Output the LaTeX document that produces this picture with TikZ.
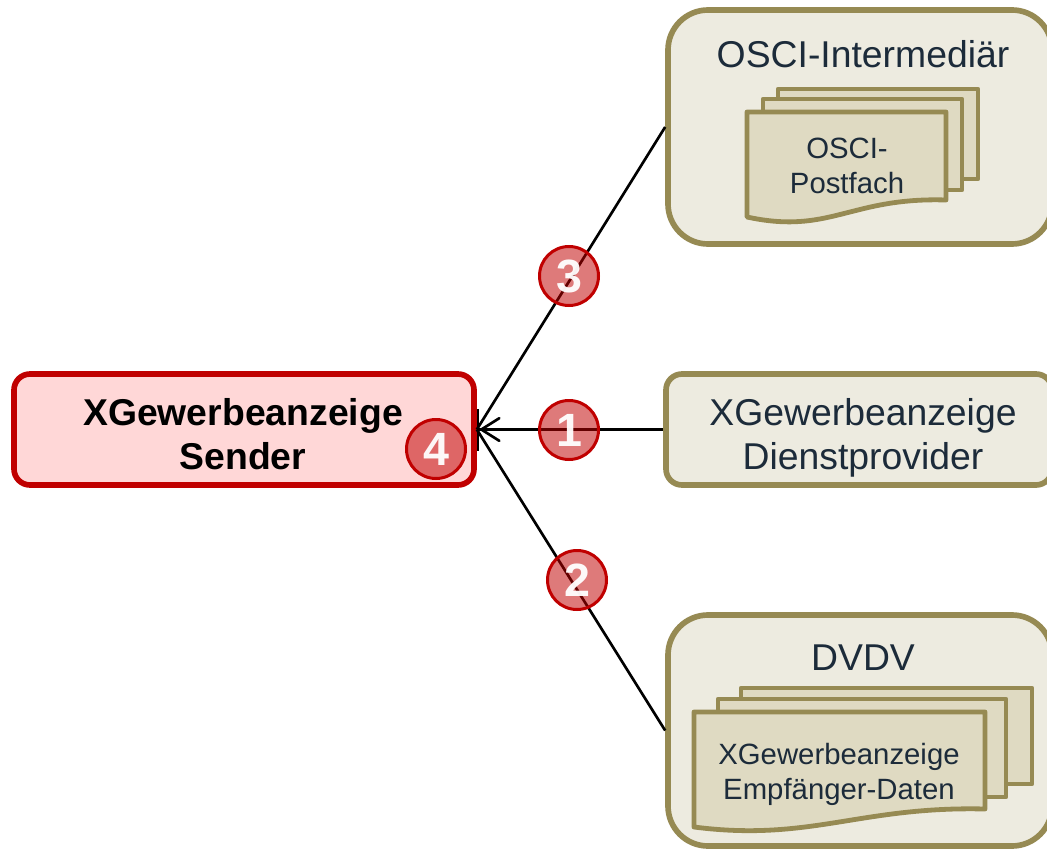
\documentclass[tikz,border=0pt]{standalone}
\usepackage{fontspec}
\setmainfont{Liberation Sans}
\usetikzlibrary{arrows.meta}
\definecolor{olive}{HTML}{968A53}
\definecolor{paleolive}{HTML}{EDEBE0}
\definecolor{docfill}{HTML}{DFDAC2}
\definecolor{inkblue}{HTML}{1C2B3A}
\definecolor{sred}{HTML}{C00000}
\definecolor{spink}{HTML}{FFD7D7}
\tikzset{
  x=0.75pt,y=-0.75pt,
  bigbox/.style={draw=olive,fill=paleolive,line width=4.25pt,rounded corners=30pt,minimum width=288pt,inner sep=0pt},
  smallbox/.style={draw=olive,fill=paleolive,line width=4.25pt,rounded corners=12pt,minimum width=289.5pt,minimum height=83.25pt,inner sep=0pt},
  senderbox/.style={draw=sred,fill=spink,line width=4.25pt,rounded corners=12pt,minimum width=345pt,minimum height=83.25pt,inner sep=0pt},
  biglabel/.style={text=inkblue,align=center,inner sep=0pt,font=\fontsize{28}{33}\selectfont},
  doclabel/.style={text=inkblue,align=center,inner sep=0pt,font=\fontsize{22}{26.3}\selectfont},
  sheet/.style={draw=olive,fill=docfill,line width=3.6pt,line join=round},
  link/.style={draw=black,line width=2pt},
  badge/.style={circle,draw=sred,line width=2.25pt,fill=sred,fill opacity=0.52,draw opacity=1,text opacity=0.95,text=white,minimum size=44.25pt,inner sep=0pt,font=\fontsize{35}{35}\selectfont\bfseries}
}
\begin{document}
\begin{tikzpicture}
\clip (0,0) rectangle (1047,849);
\fill[white] (0,0) rectangle (1047,849);
% boxes
\node[bigbox,minimum height=175.5pt] (osci) at (860,127) {};
\node[smallbox] (dienst) at (859,429.5) {};
\node[bigbox,minimum height=173.25pt] (dvdv) at (860,730.5) {};
\node[senderbox] (sender) at (244,429.5) {};
% OSCI sheets
\draw[sheet] (778,89) -- (978,89) -- (978,179) -- (778,179) -- cycle;
\draw[sheet] (763,99) -- (962,99) -- (962,190) -- (763,190) -- cycle;
\draw[sheet] (747,112) -- (946,112) -- (946,200) .. controls (850,197) and (830,235) .. (747,217) -- cycle;
% DVDV sheets
\draw[sheet] (741,688) -- (1032,688) -- (1032,784) -- (741,784) -- cycle;
\draw[sheet] (718,699) -- (1006,699) -- (1006,797) -- (718,797) -- cycle;
\draw[sheet] (694,712) -- (985,712) -- (985,809) .. controls (860,806) and (810,842) .. (694,827) -- cycle;
% labels
\node[biglabel] (osciT) at (863,54) {OSCI-Intermediär};
\node[biglabel] (dvdvT) at (863,658) {DVDV};
\node[biglabel] (dienstT) at (863,438) {XGewerbeanzeige\\Dienstprovider};
\node[biglabel,text=black,font=\fontsize{28}{33}\selectfont\bfseries] (senderT) at (243,434) {XGewerbeanzeige\\Sender};
\node[doclabel] (postT) at (847,166) {OSCI-\\Postfach};
\node[doclabel] (empfT) at (839,774) {XGewerbeanzeige\\Empfänger-Daten};
% connectors
\draw[link] (osci.west) -- (sender.east);
\draw[link] (dvdv.west) -- (sender.east);
\draw[link,-{Straight Barb[length=13.5pt,width=17pt,line cap=round,sep=0pt]Bar[width=31.5pt,line width=1.5pt,sep=0pt]}] (dienst.west) -- (sender.east);
% badges
\node[badge] (b3) at (569,276) {3};
\node[badge] (b1) at (569,430) {1};
\node[badge] (b2) at (577,580) {2};
\node[badge] (b4) at (436,449) {4};
\end{tikzpicture}
\end{document}
